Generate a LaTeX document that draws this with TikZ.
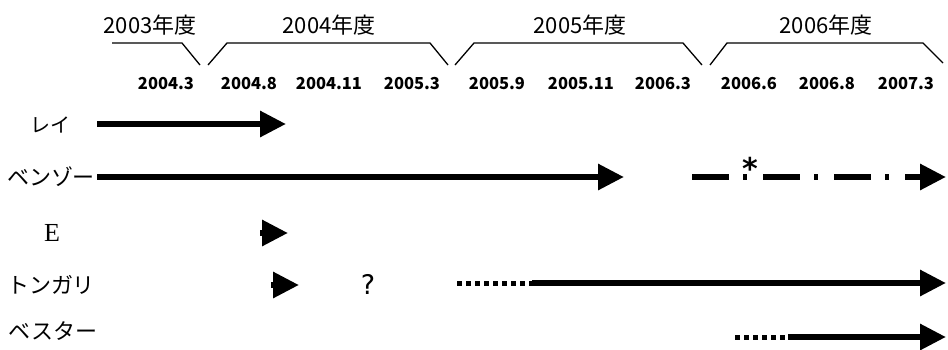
\documentclass[tikz,border=0pt]{standalone}
\usepackage{fontspec}
\setmainfont{Noto Sans CJK JP}
\newfontfamily\serifE{Liberation Serif}
\newfontfamily\symfont{DejaVu Sans}
\usetikzlibrary{arrows.meta}
\tikzset{
  yearlbl/.style={font=\fontsize{22}{22}\selectfont, inner sep=0pt},
  datelbl/.style={font=\bfseries\fontsize{16.5}{16.5}\selectfont, inner sep=0pt},
  rowlbl/.style={font=\fontsize{22}{22}\selectfont, inner sep=0pt},
  bracket/.style={line width=1.3pt, line join=miter},
  flow/.style={line width=6pt, -{Triangle[length=26pt,width=25pt]}},
  dotline/.style={line width=5pt, dash pattern=on 5pt off 4pt},
  dashdot/.style={line width=6pt, dash pattern=on 37pt off 14pt on 4pt off 16pt}
}
\begin{document}
\begin{tikzpicture}[x=1pt,y=-1pt]
\useasboundingbox (0,0) rectangle (948,349);
% fiscal-year labels
\node[yearlbl] (y03) at (150,25) {2003年度};
\node[yearlbl] (y04) at (329,25) {2004年度};
\node[yearlbl] (y05) at (580,25) {2005年度};
\node[yearlbl] (y06) at (826,25) {2006年度};
% brackets
\draw[bracket] (112,43) -- (182,43) -- (200,65);
\draw[bracket] (208,65) -- (227,43) -- (430,43) -- (448,65);
\draw[bracket] (455,65) -- (474,43) -- (683,43) -- (702,65);
\draw[bracket] (710,65) -- (727,43) -- (923,43) -- (943,63);
% dates
\node[datelbl] (d1) at (166,84) {2004.3};
\node[datelbl] (d2) at (249,84) {2004.8};
\node[datelbl] (d3) at (329,84) {2004.11};
\node[datelbl] (d4) at (412,84) {2005.3};
\node[datelbl] (d5) at (497,84) {2005.9};
\node[datelbl] (d6) at (581,84) {2005.11};
\node[datelbl] (d7) at (663,84) {2006.3};
\node[datelbl] (d8) at (749,84) {2006.6};
\node[datelbl] (d9) at (827,84) {2006.8};
\node[datelbl] (d10) at (906,84) {2007.3};
% row labels
\node[rowlbl,font=\fontsize{20}{20}\selectfont] (rei) at (50,125) {レイ};
\node[rowlbl] (benzo) at (51,177) {ベンゾー};
\node[inner sep=0pt,font=\serifE\fontsize{26}{26}\selectfont] (e) at (52,233) {E};
\node[rowlbl] (tongari) at (51,285) {トンガリ};
\node[rowlbl] (bester) at (53,331) {ベスター};
% arrows
\coordinate (reiS) at (97,124);
\coordinate (reiE) at (286,124);
\draw[flow] (reiS) -- (reiE);

\coordinate (bzS) at (97,177);
\coordinate (bzE) at (624,177);
\draw[flow] (bzS) -- (bzE);
\coordinate (bz2S) at (692,177);
\coordinate (bz2M) at (918,177);
\coordinate (bz2A) at (905,177);
\coordinate (bz2E) at (946,177);
\draw[dashdot] (bz2S) -- (bz2M);
\draw[flow] (bz2A) -- (bz2E);
\node[font=\symfont\bfseries\fontsize{30}{30}\selectfont, inner sep=0pt] (ast) at (750,168) {*};

\coordinate (eS) at (260,233);
\coordinate (eE) at (288,233);
\draw[flow] (eS) -- (eE);

\coordinate (tS) at (271,285);
\coordinate (tE) at (299,285);
\draw[flow] (tS) -- (tE);
\node[font=\symfont\fontsize{27}{27}\selectfont, inner sep=0pt] (q) at (368,284) {?};
\coordinate (t2S) at (457,283);
\coordinate (t2M) at (532,283);
\coordinate (t2E) at (946,283);
\draw[dotline] (t2S) -- (t2M);
\draw[flow] (t2M) -- (t2E);

\coordinate (bS) at (735,337);
\coordinate (bM) at (788,337);
\coordinate (bE) at (946,337);
\draw[dotline] (bS) -- (bM);
\draw[flow] (bM) -- (bE);
\end{tikzpicture}
\end{document}
